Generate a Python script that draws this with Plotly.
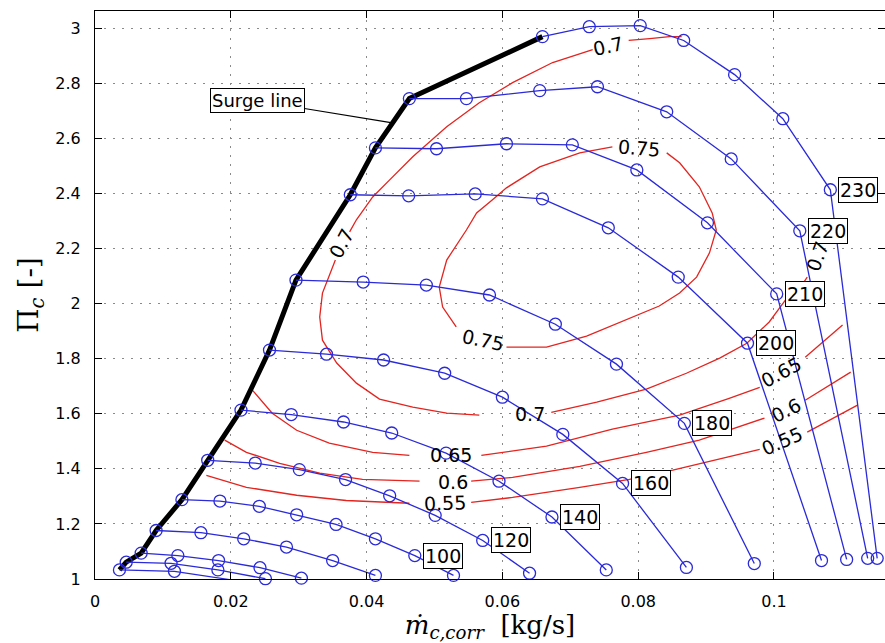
import plotly.graph_objects as go

# ---------------------------------------------------------------------------
# Compressor map: corrected mass flow [kg/s] vs. pressure ratio [-]
# ---------------------------------------------------------------------------

# Speed lines (corrected speed label, mass flow, pressure ratio)
m_230 = [0.0659, 0.0728, 0.0803, 0.0867, 0.0942, 0.1013, 0.1083, 0.1152]
pr_230 = [2.969, 3.005, 3.009, 2.955, 2.831, 2.671, 2.413, 1.075]

m_220 = [0.0463, 0.0547, 0.0655, 0.0740, 0.0842, 0.0937, 0.1038, 0.1138]
pr_220 = [2.744, 2.744, 2.773, 2.787, 2.696, 2.525, 2.264, 1.075]

m_210 = [0.0413, 0.0503, 0.0606, 0.0703, 0.0798, 0.0902, 0.1004, 0.1107]
pr_210 = [2.565, 2.562, 2.580, 2.576, 2.485, 2.293, 2.035, 1.071]

m_200 = [0.0376, 0.0462, 0.0560, 0.0659, 0.0756, 0.0859, 0.0961, 0.1070]
pr_200 = [2.395, 2.391, 2.398, 2.380, 2.275, 2.096, 1.856, 1.067]

m_180 = [0.0296, 0.0395, 0.0488, 0.0581, 0.0678, 0.0768, 0.0868, 0.0971]
pr_180 = [2.085, 2.078, 2.067, 2.031, 1.925, 1.780, 1.565, 1.056]

m_160 = [0.0257, 0.0341, 0.0425, 0.0515, 0.0600, 0.0689, 0.0777, 0.0871]
pr_160 = [1.831, 1.816, 1.795, 1.747, 1.660, 1.525, 1.347, 1.042]

m_140 = [0.0215, 0.0289, 0.0366, 0.0437, 0.0517, 0.0595, 0.0673, 0.0753]
pr_140 = [1.613, 1.597, 1.570, 1.530, 1.457, 1.355, 1.225, 1.033]

m_120 = [0.0166, 0.0236, 0.0301, 0.0369, 0.0434, 0.0501, 0.0571, 0.0640]
pr_120 = [1.431, 1.421, 1.397, 1.361, 1.302, 1.231, 1.140, 1.021]

m_100 = [0.0128, 0.0184, 0.0242, 0.0297, 0.0355, 0.0413, 0.0471, 0.0528]
pr_100 = [1.288, 1.283, 1.264, 1.233, 1.198, 1.146, 1.085, 1.013]

m_80 = [0.0090, 0.0156, 0.0219, 0.0282, 0.0350, 0.0413]
pr_80 = [1.176, 1.168, 1.146, 1.116, 1.067, 1.013]

m_60 = [0.0068, 0.0122, 0.0182, 0.0243, 0.0304]
pr_60 = [1.094, 1.085, 1.067, 1.041, 1.003]

m_40 = [0.0046, 0.0112, 0.0181, 0.0251]
pr_40 = [1.061, 1.057, 1.033, 1.001]

m_20 = [0.0036, 0.0117, 0.0198]
pr_20 = [1.033, 1.028, 0.998]

# label shown next to a speed line (None = unlabeled)
speed_lines = [
    ("230", m_230, pr_230),
    ("220", m_220, pr_220),
    ("210", m_210, pr_210),
    ("200", m_200, pr_200),
    ("180", m_180, pr_180),
    ("160", m_160, pr_160),
    ("140", m_140, pr_140),
    ("120", m_120, pr_120),
    ("100", m_100, pr_100),
    (None, m_80, pr_80),
    (None, m_60, pr_60),
    (None, m_40, pr_40),
    (None, m_20, pr_20),
]

# Isentropic efficiency isolines (None leaves room for the inline labels)
eta_075_m = [0.0842, 0.0861, 0.0890, 0.0909, 0.0915, 0.0905, 0.0886, 0.0861, 0.0831,
             0.0792, 0.0724, 0.0665, 0.0606, None,
             0.0532, 0.0512, 0.0507, 0.0518, 0.0547, 0.0562, 0.0585, 0.0606, 0.0655,
             0.0714, 0.0762]
eta_075_pr = [2.547, 2.511, 2.424, 2.329, 2.267, 2.184, 2.096, 2.038, 1.991,
              1.951, 1.882, 1.842, 1.842, None,
              1.915, 1.987, 2.060, 2.158, 2.267, 2.329, 2.376, 2.420, 2.496,
              2.547, 2.569]

eta_070_m = [0.0864, 0.0846, 0.0817, 0.0786, None,
             0.0733, 0.0674, 0.0615, 0.0566, 0.0518, 0.0468, 0.0434, 0.0409, 0.0385,
             0.0375, None,
             0.0354, 0.0342, 0.0335, 0.0331, 0.0335, 0.0356, 0.0385, 0.0419, 0.0468,
             0.0518, 0.0566, None,
             0.0672, 0.0739, 0.0812, 0.0871, 0.0920, 0.0960, 0.0993, 0.1017, 0.1038,
             0.1049, None,
             0.1076, 0.1091]
eta_070_pr = [2.969, 2.969, 2.962, 2.955, None,
              2.922, 2.875, 2.802, 2.729, 2.642, 2.533, 2.449, 2.387, 2.304,
              2.260, None,
              2.158, 2.085, 2.038, 1.951, 1.867, 1.784, 1.711, 1.653, 1.624,
              1.602, 1.595, None,
              1.605, 1.642, 1.689, 1.747, 1.802, 1.856, 1.933, 2.013, 2.056,
              2.096, None,
              2.231, 2.296]

eta_065_m = [0.0232, 0.0261, 0.0297, 0.0345, 0.0409, 0.0463, None,
             0.0569, 0.0665, 0.0762, 0.0861, 0.0934, 0.0979, None,
             0.1046, 0.1101]
eta_065_pr = [1.685, 1.602, 1.540, 1.493, 1.460, 1.449, None,
              1.449, 1.482, 1.544, 1.595, 1.656, 1.696, None,
              1.805, 1.922]

eta_060_m = [0.0191, 0.0223, 0.0272, 0.0331, 0.0394, 0.0478, None,
             0.0554, 0.0615, 0.0714, 0.0812, 0.0890, 0.0986, None,
             0.1046, 0.1113]
eta_060_pr = [1.504, 1.460, 1.420, 1.384, 1.362, 1.355, None,
              1.355, 1.369, 1.409, 1.460, 1.504, 1.584, None,
              1.649, 1.751]

eta_055_m = [0.0164, 0.0223, 0.0297, 0.0370, 0.0463, None,
             0.0554, 0.0615, 0.0714, 0.0787, 0.0851, 0.0920, 0.0979, None,
             0.1049, 0.1123]
eta_055_pr = [1.376, 1.333, 1.304, 1.285, 1.275, None,
              1.278, 1.296, 1.333, 1.362, 1.395, 1.435, 1.471, None,
              1.533, 1.631]

efficiency_lines = [
    (0.75, eta_075_m, eta_075_pr),
    (0.70, eta_070_m, eta_070_pr),
    (0.65, eta_065_m, eta_065_pr),
    (0.60, eta_060_m, eta_060_pr),
    (0.55, eta_055_m, eta_055_pr),
]

# Axis ticks
x_ticks = [0, 0.02, 0.04, 0.06, 0.08, 0.1]
x_ticktext = ["0", "0.02", "0.04", "0.06", "0.08", "0.1"]
y_ticks = [1, 1.2, 1.4, 1.6, 1.8, 2, 2.2, 2.4, 2.6, 2.8, 3]
y_ticktext = ["1", "1.2", "1.4", "1.6", "1.8", "2", "2.2", "2.4", "2.6", "2.8", "3"]

# ---------------------------------------------------------------------------
BLUE = "#2a2ad8"
RED = "#e3241f"
FONT = "DejaVu Sans"
SERIF = "DejaVu Serif"

fig = go.Figure()

# efficiency isolines
for eta, m, pr in efficiency_lines:
    fig.add_trace(go.Scatter(
        x=m, y=pr, mode="lines", connectgaps=False,
        line=dict(color=RED, width=1.3),
        hoverinfo="skip", showlegend=False,
    ))

# surge line through the leftmost point of every speed line
surge_m = [m[0] for _, m, _ in reversed(speed_lines)]
surge_pr = [pr[0] for _, _, pr in reversed(speed_lines)]
fig.add_trace(go.Scatter(
    x=surge_m, y=surge_pr, mode="lines",
    line=dict(color="black", width=5),
    hoverinfo="skip", showlegend=False,
))

# speed lines with measured operating points
for name, m, pr in speed_lines:
    fig.add_trace(go.Scatter(
        x=m, y=pr, mode="lines+markers",
        line=dict(color=BLUE, width=1.3),
        marker=dict(symbol="circle-open", size=12, color=BLUE, line=dict(width=1.3)),
        cliponaxis=False, hoverinfo="skip", showlegend=False,
    ))
    if name:
        fig.add_annotation(
            x=m[-2], y=pr[-2], text=name, showarrow=False,
            xanchor="left", yanchor="middle", xshift=8,
            bgcolor="white", bordercolor="black", borderwidth=1, borderpad=1,
            font=dict(family=FONT, size=19, color="black"),
        )

# inline efficiency labels: (value, mass flow, pressure ratio, rotation)
eta_labels = [
    (0.75, 0.0801, 2.565, 5),
    (0.75, 0.0572, 1.867, 12),
    (0.70, 0.0756, 2.936, -12),
    (0.70, 0.0363, 2.220, -62),
    (0.70, 0.0640, 1.598, 0),
    (0.70, 0.1064, 2.173, -70),
    (0.65, 0.0525, 1.449, 0),
    (0.65, 0.1011, 1.751, -28),
    (0.60, 0.0527, 1.351, 0),
    (0.60, 0.1018, 1.613, -27),
    (0.55, 0.0515, 1.275, -2),
    (0.55, 0.1012, 1.500, -24),
]
for eta, xm, ypr, ang in eta_labels:
    fig.add_annotation(
        x=xm, y=ypr, text=f"{eta:g}", showarrow=False, textangle=ang,
        xanchor="center", yanchor="middle",
        font=dict(family=FONT, size=19, color="black"),
    )

# surge line callout
fig.add_annotation(
    x=0.0438, y=2.656, text="Surge line",
    showarrow=True, arrowhead=0, arrowwidth=1.2, arrowcolor="black",
    ax=-135, ay=-22, standoff=0,
    bgcolor="white", bordercolor="black", borderwidth=1, borderpad=1,
    font=dict(family=FONT, size=18, color="black"),
)

axis_common = dict(
    showline=True, linecolor="black", linewidth=1, mirror="ticks",
    ticks="inside", ticklen=7, tickcolor="black", tickwidth=1,
    showgrid=True, gridcolor="#8a8a8a", gridwidth=1, griddash="2px,7px",
    zeroline=False,
    tickfont=dict(family=FONT, size=16, color="black"),
)

fig.update_xaxes(
    range=[0, 0.11635], tickvals=x_ticks, ticktext=x_ticktext,
    ticklabelstandoff=8,
    title=dict(text="<i>ṁ</i><sub><i>c,corr</i></sub>  [kg/s]",
               font=dict(family=SERIF, size=26, color="black"), standoff=6),
    **axis_common,
)
fig.update_yaxes(
    range=[1, 3.062], tickvals=y_ticks, ticktext=y_ticktext,
    ticklabelstandoff=10,
    title=dict(text="Π<sub><i>c</i></sub> [-]",
               font=dict(family=SERIF, size=28, color="black"), standoff=8),
    **axis_common,
)

fig.update_layout(
    width=885, height=643,
    margin=dict(l=95, r=0, t=11, b=64, autoexpand=False),
    plot_bgcolor="white", paper_bgcolor="white",
    showlegend=False,
)

fig.write_html("out.html")
